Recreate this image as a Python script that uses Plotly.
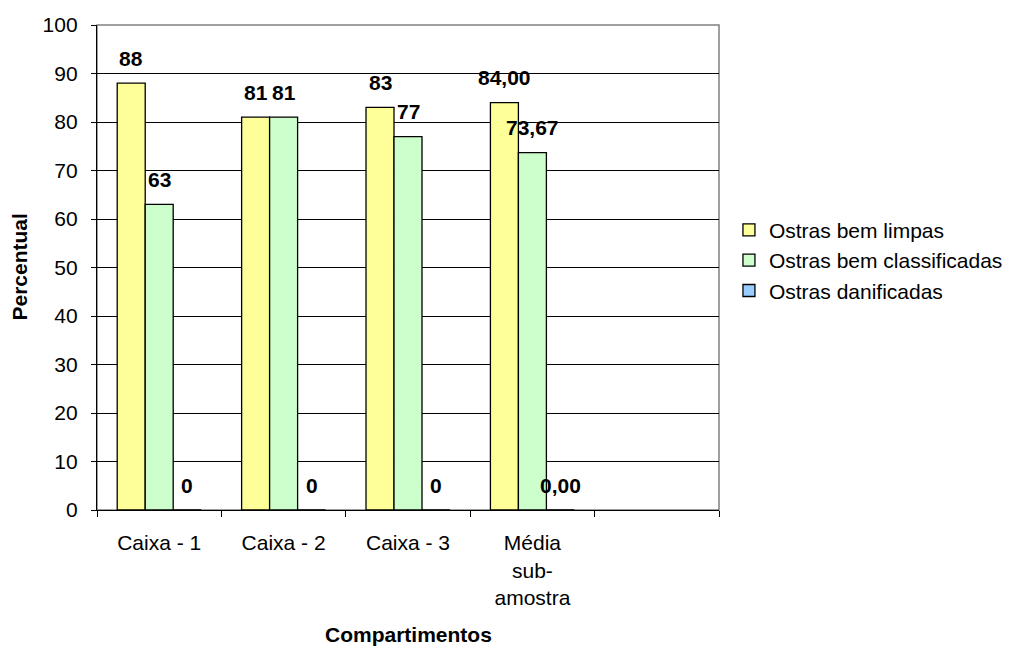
import plotly.graph_objects as go

# categories (last slot is empty, as in the original sheet)
categories = ["Caixa - 1", "Caixa - 2", "Caixa - 3", "Média<br>sub-<br>amostra", " "]
bem_limpas = [88, 81, 83, 84.00]
bem_classificadas = [63, 81, 77, 73.67]
danificadas = [0, 0, 0, 0.00]
label_limpas = ["88", "81", "83", "84,00"]
label_classificadas = ["63", "81", "77", "73,67"]
label_danificadas = ["0", "0", "0", "0,00"]

series = [
    ("Ostras bem limpas", bem_limpas, label_limpas, "#FFFF99"),
    ("Ostras bem classificadas", bem_classificadas, label_classificadas, "#CCFFCC"),
    ("Ostras danificadas", danificadas, label_danificadas, "#99CCFF"),
]

FONT = "Liberation Sans, Arial, sans-serif"
FS = 21
# the page body adds an 8px offset, so the figure is sized/placed to compensate
PAGE = 8
W, H = 1017 - PAGE, 649 - PAGE
plot_l, plot_r, plot_t, plot_b = 97 - PAGE, 719 - PAGE, 25 - PAGE, 510 - PAGE
cat_px = (plot_r - plot_l) / len(categories)
bargap = 0.325
bar_px = cat_px * (1 - bargap) / len(series)

fig = go.Figure()
annotations = []
for i, (name, vals, labels, color) in enumerate(series):
    fig.add_trace(
        go.Bar(
            x=categories[: len(vals)],
            y=vals,
            name=name,
            marker=dict(color=color, line=dict(color="black", width=1.3)),
        )
    )
    shift = (i - 1) * bar_px
    for c, v, t in zip(categories, vals, labels):
        annotations.append(
            dict(
                x=c, y=v, text=f"<b>{t}</b>", showarrow=False,
                xshift=shift, yshift=25, yanchor="middle",
                font=dict(family=FONT, size=FS, color="black"),
            )
        )

# axis titles placed as paper annotations
annotations.append(dict(
    xref="paper", yref="paper", x=0.5, y=0, yshift=-(634 - 510), yanchor="middle",
    text="<b>Compartimentos</b>", showarrow=False,
    font=dict(family=FONT, size=FS, color="black"),
))
annotations.append(dict(
    xref="paper", yref="paper", x=0, y=0.5, xshift=-(97 - 19), xanchor="center",
    text="<b>Percentual</b>", showarrow=False, textangle=-90,
    font=dict(family=FONT, size=FS, color="black"),
))

fig.update_layout(
    width=W,
    height=H,
    margin=dict(l=plot_l, r=W - plot_r, t=plot_t, b=H - plot_b, autoexpand=False),
    paper_bgcolor="white",
    plot_bgcolor="white",
    barmode="group",
    bargap=bargap,
    bargroupgap=0,
    font=dict(family=FONT, size=FS, color="black"),
    annotations=annotations,
    shapes=[dict(
        type="rect", xref="paper", yref="paper", x0=0, x1=1, y0=0, y1=1,
        line=dict(color="#808080", width=1.5), layer="below",
    )],
    showlegend=True,
    legend=dict(
        x=1.016, y=0.515, xanchor="left", yanchor="middle",
        font=dict(family=FONT, size=FS, color="black"),
        bgcolor="rgba(0,0,0,0)",
        itemwidth=30,
    ),
)
fig.update_xaxes(
    type="category",
    categoryorder="array",
    categoryarray=categories,
    range=[-0.5, len(categories) - 0.5],
    tickson="boundaries",
    ticks="outside",
    ticklen=6,
    tickcolor="black",
    ticklabelstandoff=14,
    showline=True,
    linecolor="black",
    linewidth=1.3,
    showgrid=False,
    automargin=False,
    tickfont=dict(family=FONT, size=FS),
)
fig.update_yaxes(
    range=[0, 100],
    dtick=10,
    ticks="outside",
    ticklen=5,
    tickcolor="black",
    ticklabelstandoff=9,
    showline=True,
    linecolor="black",
    linewidth=1.3,
    showgrid=True,
    gridcolor="black",
    gridwidth=1,
    zeroline=False,
    automargin=False,
    tickfont=dict(family=FONT, size=FS),
)

fig.write_html("out.html")
